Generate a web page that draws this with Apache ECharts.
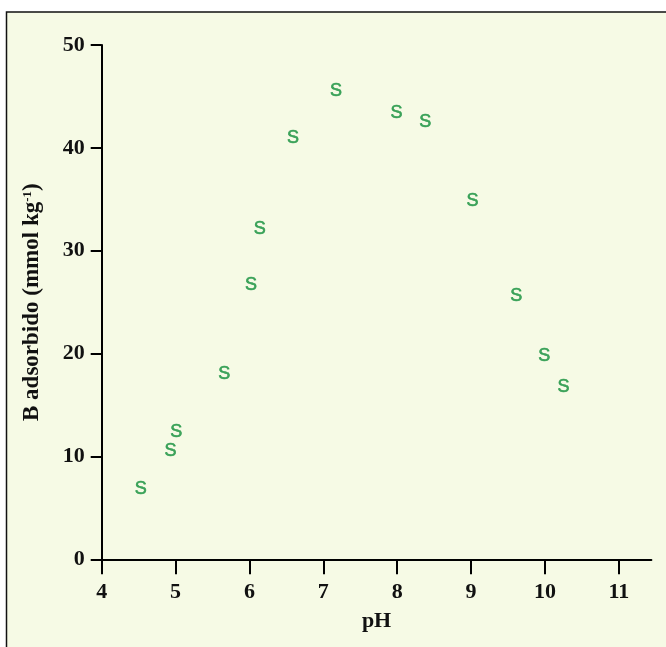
<!DOCTYPE html>
<html>
<head>
<meta charset="utf-8">
<script src="https://cdn.jsdelivr.net/npm/echarts@6/dist/echarts.min.js"></script>
<style>
html,body{margin:0;padding:0;background:#ffffff;}
#chart{width:666px;height:647px;}
</style>
</head>
<body>
<div id="chart"></div>
<script>
// pH values and adsorbed B (mmol kg-1)
const phValues = [4.53, 4.93, 5.01, 5.66, 6.02, 6.14, 6.59, 7.17, 7.99, 8.38, 9.02, 9.61, 9.99, 10.25];
const bAdsorbed = [6.8, 10.5, 12.4, 18.0, 26.7, 32.1, 41.0, 45.5, 43.4, 42.5, 34.8, 25.6, 19.8, 16.7];
const xTicks = [4, 5, 6, 7, 8, 9, 10, 11];
const yTicks = [0, 10, 20, 30, 40, 50];

const points = phValues.map((x, i) => [x, bAdsorbed[i]]);
const bg = '#f6fae5';
const serif = '"Liberation Serif", "DejaVu Serif", serif';

const chart = echarts.init(document.getElementById('chart'));
chart.setOption({
  animation: false,
  backgroundColor: '#ffffff',
  graphic: [{
    type: 'rect',
    z: -10,
    silent: true,
    shape: { x: 6.5, y: 12, width: 720, height: 720 },
    style: { fill: bg, stroke: '#111', lineWidth: 1.5 }
  }],
  grid: { left: 101.7, right: 14.6, top: 45, bottom: 87.7, containLabel: false },
  xAxis: {
    type: 'value',
    min: 4,
    max: 11.44,
    interval: 1,
    name: 'pH',
    nameLocation: 'middle',
    nameGap: 51,
    nameTextStyle: { fontFamily: serif, fontWeight: 'bold', fontSize: 22, color: '#111' },
    axisLine: { show: true, onZero: false, lineStyle: { color: '#000', width: 2 } },
    axisTick: { show: true, length: 15, lineStyle: { color: '#000', width: 2 } },
    axisLabel: {
      margin: 22, fontFamily: serif, fontWeight: 'bold', fontSize: 22, color: '#111',
      showMaxLabel: false,
      formatter: v => xTicks.includes(v) ? String(v) : ''
    },
    splitLine: { show: false }
  },
  yAxis: {
    type: 'value',
    min: 0,
    max: 50,
    interval: 10,
    name: 'B adsorbido (mmol kg{sup|-1})',
    nameLocation: 'middle',
    nameGap: 58,
    nameTextStyle: {
      fontFamily: serif, fontWeight: 'bold', fontSize: 23, color: '#111',
      rich: { sup: { fontFamily: serif, fontWeight: 'bold', fontSize: 13, color: '#111', verticalAlign: 'top', padding: [0, 0, 9, 0] } }
    },
    axisLine: { show: true, lineStyle: { color: '#000', width: 2 } },
    axisTick: { show: true, length: 11, lineStyle: { color: '#000', width: 2 } },
    axisLabel: {
      margin: 17, fontFamily: serif, fontWeight: 'bold', fontSize: 22, color: '#111',
      formatter: v => yTicks.includes(v) ? String(v) : ''
    },
    splitLine: { show: false }
  },
  series: [{
    type: 'scatter',
    data: points,
    symbol: 'circle',
    symbolSize: 1,
    itemStyle: { color: 'rgba(0,0,0,0)' },
    label: {
      show: true,
      position: 'inside',
      formatter: 'S',
      fontFamily: '"Liberation Sans", Arial, sans-serif',
      fontSize: 18,
      color: '#14903c',
      textBorderColor: '#14903c',
      textBorderWidth: 0.6
    }
  }]
});
</script>
</body>
</html>
